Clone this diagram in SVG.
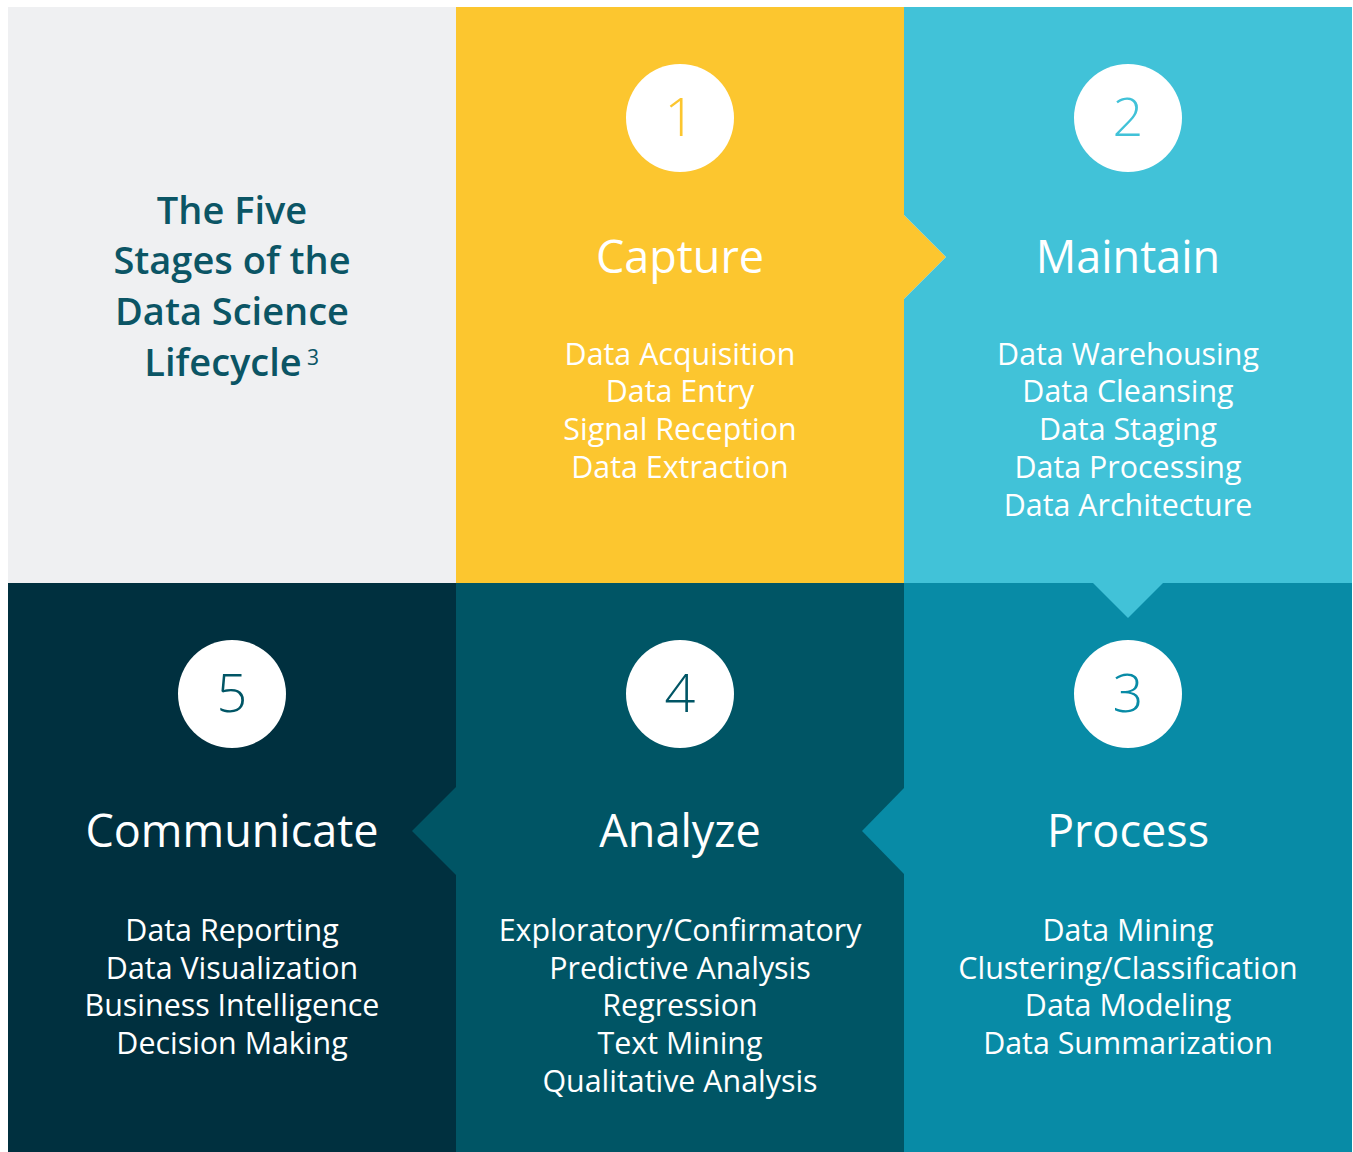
<svg xmlns="http://www.w3.org/2000/svg" width="1353" height="1152" viewBox="0 0 1353 1152">
<style>
text{font-family:"Open Sans","Noto Sans","Liberation Sans",sans-serif;text-anchor:middle}
.title{font-size:38px;font-weight:600;fill:#0b5565}
.num{font-size:54px;font-weight:300}
.stage{font-size:45px;font-weight:400;fill:#ffffff}
.item{font-size:30.4px;font-weight:400;fill:#ffffff}
.circ{fill:#ffffff}
</style>
<rect x="0" y="0" width="1353" height="1152" fill="#ffffff"/>
<g id="intro">
<rect x="8" y="7" width="448" height="576" fill="#eff0f2"/>
<text class="title" x="232" y="224">The Five</text>
<text class="title" x="232" y="274">Stages of the</text>
<text class="title" x="232" y="325">Data Science</text>
<text class="title" x="223" y="376">Lifecycle</text>
<text class="title" x="313" y="365" style="font-size:21px;font-weight:400">3</text>
</g>
<g id="panels-bottom">
<rect x="8" y="583" width="448" height="569" fill="#00303f"/>
<rect x="456" y="583" width="448" height="569" fill="#005565"/>
<rect x="904" y="583" width="448" height="569" fill="#088ba6"/>
</g>
<g id="connectors">
<polygon points="456,7 904,7 904,215 946,257 904,299 904,583 456,583" fill="#fcc62f"/>
<polygon points="904,7 1352,7 1352,583 1163,583 1128,618 1093,583 904,583 904,299 946,257 904,215" fill="#41c2d8"/>
<polygon points="904,788 862,831 904,874" fill="#088ba6"/>
<polygon points="456,787 412,831 456,875" fill="#005565"/>
</g>
<g id="stage1">
<circle class="circ" cx="680" cy="118" r="54"/>
<text class="num" x="680" y="136" fill="#fcc62f">1</text>
<text class="stage" x="680" y="273">Capture</text>
<text class="item" x="680" y="365">Data Acquisition</text>
<text class="item" x="680" y="402">Data Entry</text>
<text class="item" x="680" y="440">Signal Reception</text>
<text class="item" x="680" y="478">Data Extraction</text>
</g>
<g id="stage2">
<circle class="circ" cx="1128" cy="118" r="54"/>
<text class="num" x="1128" y="136" fill="#41c2d8">2</text>
<text class="stage" x="1128" y="273">Maintain</text>
<text class="item" x="1128" y="365">Data Warehousing</text>
<text class="item" x="1128" y="402">Data Cleansing</text>
<text class="item" x="1128" y="440">Data Staging</text>
<text class="item" x="1128" y="478">Data Processing</text>
<text class="item" x="1128" y="516">Data Architecture</text>
</g>
<g id="stage3">
<circle class="circ" cx="1128" cy="694" r="54"/>
<text class="num" x="1128" y="712" fill="#088ba6">3</text>
<text class="stage" x="1128" y="847">Process</text>
<text class="item" x="1128" y="941">Data Mining</text>
<text class="item" x="1128" y="979">Clustering/Classification</text>
<text class="item" x="1128" y="1016">Data Modeling</text>
<text class="item" x="1128" y="1054">Data Summarization</text>
</g>
<g id="stage4">
<circle class="circ" cx="680" cy="694" r="54"/>
<text class="num" x="680" y="712" fill="#005565">4</text>
<text class="stage" x="680" y="847">Analyze</text>
<text class="item" x="680" y="941">Exploratory/Confirmatory</text>
<text class="item" x="680" y="979">Predictive Analysis</text>
<text class="item" x="680" y="1016">Regression</text>
<text class="item" x="680" y="1054">Text Mining</text>
<text class="item" x="680" y="1092">Qualitative Analysis</text>
</g>
<g id="stage5">
<circle class="circ" cx="232" cy="694" r="54"/>
<text class="num" x="232" y="712" fill="#005565">5</text>
<text class="stage" x="232" y="847">Communicate</text>
<text class="item" x="232" y="941">Data Reporting</text>
<text class="item" x="232" y="979">Data Visualization</text>
<text class="item" x="232" y="1016">Business Intelligence</text>
<text class="item" x="232" y="1054">Decision Making</text>
</g>
</svg>
